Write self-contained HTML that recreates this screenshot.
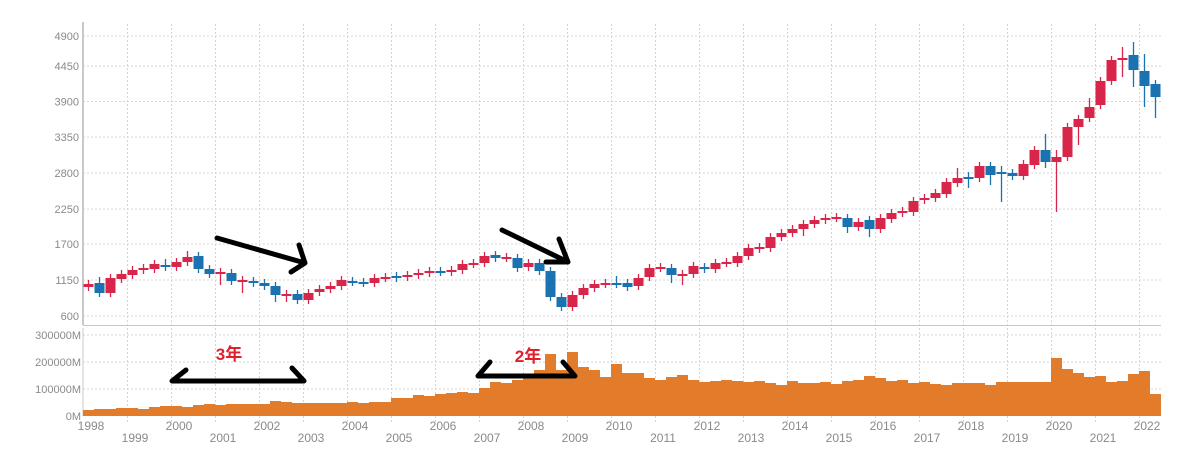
<!DOCTYPE html>
<html><head><meta charset="utf-8"><style>
html,body{margin:0;padding:0;background:#fff;width:1195px;height:466px;overflow:hidden}
svg{display:block}
text{font-family:"Liberation Sans","Noto Sans CJK SC",sans-serif}
</style></head><body>
<svg id="s" width="1195" height="466" xmlns="http://www.w3.org/2000/svg"></svg>
<script>
var s=document.getElementById('s'),h='';
var L=83,R=1161;
// price gridlines
var py=[[4900,36],[4450,66],[3900,101.5],[3350,137],[2800,173],[2250,209],[1700,244],[1150,280],[600,316]];
py.forEach(function(p){h+='<line x1="'+L+'" x2="'+R+'" y1="'+p[1]+'" y2="'+p[1]+'" stroke="#d4d4d4" stroke-dasharray="2,2"/>';
h+='<text x="79" y="'+(p[1]+4)+'" font-size="11" fill="#8a8a8a" text-anchor="end">'+p[0]+'</text>';});
// volume gridlines
[[300000,335],[200000,362],[100000,389]].forEach(function(p){h+='<line x1="'+L+'" x2="'+R+'" y1="'+p[1]+'" y2="'+p[1]+'" stroke="#d4d4d4" stroke-dasharray="2,2"/>';
h+='<text x="81" y="'+(p[1]+4)+'" font-size="11" fill="#8a8a8a" text-anchor="end">'+p[0]+'M</text>';});
h+='<text x="81" y="420" font-size="11" fill="#8a8a8a" text-anchor="end">0M</text>';
// vertical year gridlines
for(var k=1;k<=24;k++){var x=L+44*k+0.5;h+='<line x1="'+x+'" x2="'+x+'" y1="24" y2="325" stroke="#d4d4d4" stroke-dasharray="2,2"/><line x1="'+x+'" x2="'+x+'" y1="328" y2="424" stroke="#d4d4d4" stroke-dasharray="2,2"/>';}
h+='<line x1="83" x2="83" y1="22" y2="325" stroke="#c8c8c8" stroke-width="2"/>';
h+='<line x1="83" x2="83" y1="328" y2="416" stroke="#c8c8c8" stroke-width="1"/>';
h+='<line x1="83" x2="'+R+'" y1="325.5" y2="325.5" stroke="#c8c8c8"/>';
// year labels
for(var y=1998;y<=2022;y++){var i=y-1998,cx=91+44*i;h+='<text x="'+cx+'" y="'+(i%2?442:430)+'" font-size="12" fill="#8a8a8a" text-anchor="middle">'+y+'</text>';}
// volume
var v=[410,409,409,408,408,409,407,406,406,407,405,404,405,404,404,404,404,401,402,403,403,403,403,403,402,403,402,402,398,398,395,396,394,393,392,393,388,382,383,380,377,370,354,370,352,367,370,377,364,373,373,378,380,377,375,380,382,381,380,381,382,381,383,385,381,383,383,382,384,381,380,376,378,381,380,383,382,384,385,383,383,383,385,382,382,382,382,382,358,369,373,377,376,382,381,374,371,394];
var d='M83,416';for(var i=0;i<98;i++){var t=v[i]||385;d+=' L'+(L+11*i)+','+t+' L'+(L+11*i+11)+','+t;}d+=' L'+(L+11*98)+',416 Z';
h+='<path d="'+d+'" fill="#e27b2a"/>';
// candles
var c=[[284,287,'r'],[283,293,'b',277],[278,293,'r'],[274,279,'r'],[270,275,'r'],[268,270,'r'],[264,269,'r'],[265,267,'b',259],[262,267,'r'],[257,262,'r',251],[256,269,'b'],[269,274,'b'],[272,274,'r',0,285],[273,281,'b'],[280,282,'r',0,293],[281,283,'b'],[283,286,'b'],[286,295,'b',0,302],[294,295,'r',0,302],[294,300,'b'],[293,300,'r'],[289,292,'r'],[286,289,'r'],[280,286,'r'],[281,282,'b'],[282,283,'b'],[278,283,'r'],[277,278,'r'],[276,278,'b'],[275,277,'r'],[273,275,'r'],[271,273,'r'],[271,272,'b'],[270,272,'r'],[264,270,'r'],[263,264,'r'],[256,263,'r'],[255,258,'b'],[257,258,'r'],[258,268,'b'],[263,267,'r'],[263,271,'b'],[271,297,'b'],[297,307,'b',0,311],[295,307,'r'],[288,295,'r'],[284,288,'r'],[283,284,'r'],[283,284,'b',276],[283,287,'b'],[278,286,'r'],[268,277,'r'],[267,268,'r'],[268,275,'b',0,283],[274,275,'r',0,285],[266,274,'r'],[267,269,'b'],[263,269,'r'],[262,263,'r'],[256,263,'r'],[248,256,'r'],[247,248,'r',243,253],[237,248,'r'],[233,237,'r'],[229,233,'r'],[224,229,'r',0,236],[220,224,'r'],[218,220,'r'],[217,218,'r'],[218,227,'b',0,233],[222,227,'r'],[220,229,'b',0,237],[218,229,'r'],[213,219,'r'],[211,213,'r'],[201,212,'r'],[198,200,'r'],[193,198,'r'],[182,194,'r'],[178,183,'r',168],[177,178,'b',172,188],[166,178,'r'],[166,175,'b',0,185],[172,174,'b',166,202],[173,176,'b'],[164,176,'r'],[150,165,'r'],[150,162,'b',134,168],[157,162,'r',150,212],[127,157,'r'],[119,127,'r',0,145],[107,118,'r',98],[81,105,'r'],[60,81,'r'],[58,60,'r',47,77],[55,70,'b',42,87],[71,86,'b',54,107],[84,97,'b',0,118]];
c.forEach(function(q,i){var col=q[2]=='r'?'#d7264a':'#1a72b0',x=L+11*i,cx=x+5.5;
var wt=q[3]||q[0]-4,wb=q[4]||q[1]+4;
h+='<line x1="'+cx+'" x2="'+cx+'" y1="'+wt+'" y2="'+wb+'" stroke="'+col+'" stroke-width="1.3"/>';
var hh=Math.max(q[1]-q[0],2);h+='<rect x="'+(x+0.5)+'" y="'+q[0]+'" width="10" height="'+hh+'" fill="'+col+'"/>';});
// annotations
var st='fill="none" stroke="#000" stroke-width="5" stroke-linecap="round" stroke-linejoin="round"';
h+='<path d="M217,238 L305,263 M299,245 L305,263 L291,272" '+st+'/>';
h+='<path d="M502,230 L568,262 M559,239 L568,262 L546,262" '+st+'/>';
h+='<path d="M186,370 L172,381 L304,381 L292,368" '+st+'/>';
h+='<path d="M490,362 L478,376 L575,376 L563,362" '+st+'/>';
h+='<text x="229" y="360" font-size="17" font-weight="bold" fill="#e0202a" text-anchor="middle">3年</text>';
h+='<text x="528" y="362" font-size="17" font-weight="bold" fill="#e0202a" text-anchor="middle">2年</text>';
s.innerHTML=h;
</script>
</body></html>
